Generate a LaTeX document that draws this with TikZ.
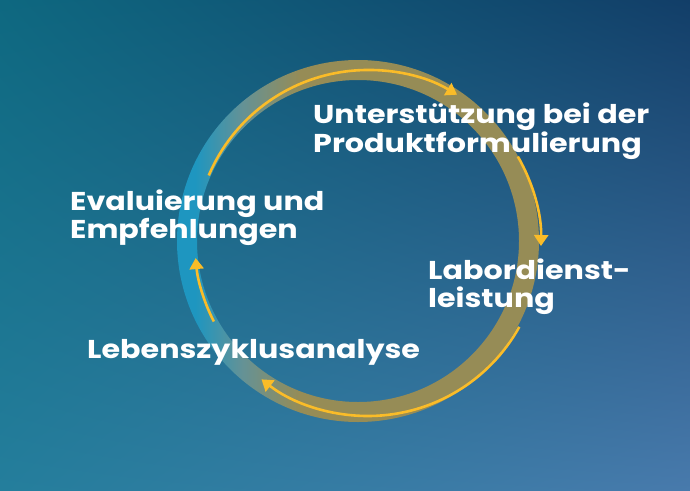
\documentclass[tikz,border=0pt]{standalone}
\usepackage{fontspec}
\setmainfont{Poppins}[FakeStretch=1.17]
\usetikzlibrary{arrows.meta,shadings}
\definecolor{bgTL}{RGB}{14,104,128}
\definecolor{bgTR}{RGB}{18,62,104}
\definecolor{bgBL}{RGB}{36,126,156}
\definecolor{bgBR}{RGB}{72,122,172}
\definecolor{ringcyan}{RGB}{30,150,192}
\definecolor{ringgray}{RGB}{100,146,150}
\definecolor{ringkhaki}{RGB}{150,140,86}
\definecolor{flowyellow}{RGB}{250,188,40}
\pgfdeclarehorizontalshading{ringshade}{100bp}{color(0bp)=(ringcyan); color(25bp)=(ringcyan); color(27.5bp)=(ringcyan); color(34bp)=(ringgray); color(42bp)=(ringkhaki); color(100bp)=(ringkhaki)}
\begin{document}
\begin{tikzpicture}[x=1pt,y=-1pt,
  lbl/.style={text=white, font=\bfseries\fontsize{25.8}{27.5}\selectfont, align=left, anchor=north west, inner sep=0pt},
  flow/.style={draw=flowyellow, line width=2.6pt, -{Triangle[length=11pt,width=14pt]}}]
\useasboundingbox (0,0) rectangle (690,490);
\shade[upper left=bgTL, upper right=bgTR, lower left=bgBL, lower right=bgBR] (0,0) rectangle (690,490);
\coordinate (ringc) at (358,241);
\coordinate (flowc) at (368,243);
\shade[shading=ringshade, even odd rule] (ringc) circle[radius=181] (ringc) circle[radius=161];
\draw[flow] ([shift={(-157:173)}]flowc) arc[start angle=-157, end angle=-59, radius=173];
\draw[flow] ([shift={(-30:173)}]flowc) arc[start angle=-30, end angle=1, radius=173];
\draw[flow] ([shift={(29:173)}]flowc) arc[start angle=29, end angle=128, radius=173];
\draw[flow] ([shift={(153:173)}]flowc) arc[start angle=153, end angle=175, radius=173];
\node[lbl] (prod) at (313,103) {Unterstützung bei der\\Produktformulierung};
\node[lbl] (labor) at (428,259) {Labordienst-\\leistung};
\node[lbl] (lca) at (87,339) {Lebenszyklusanalyse};
\node[lbl] (eval) at (70,190) {Evaluierung und\\Empfehlungen};
\end{tikzpicture}
\end{document}
